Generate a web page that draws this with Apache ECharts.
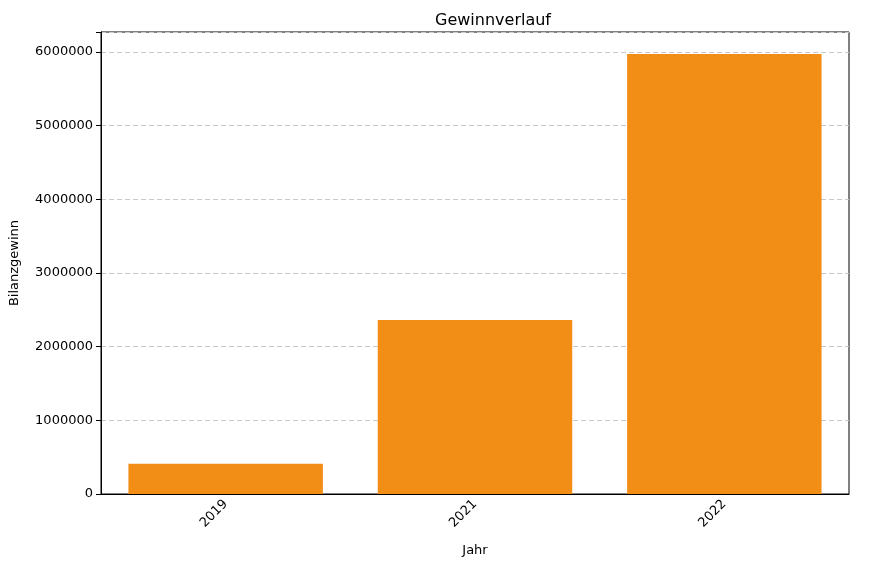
<!DOCTYPE html>
<html><head><meta charset="utf-8">
<script src="https://cdn.jsdelivr.net/npm/echarts@6/dist/echarts.min.js"></script>
<style>html,body{margin:0;padding:0;background:#fff}#c{width:885px;height:568px}</style>
</head><body><div id="c"></div>
<script>
const categories = ['2019', '2021', '2022'];
const values = [410000, 2360000, 5970000];
const yTicks = [0, 1000000, 2000000, 3000000, 4000000, 5000000, 6000000];

const chart = echarts.init(document.getElementById('c'), null, {renderer: 'canvas'});
const font = 'DejaVu Sans';
chart.setOption({
  animation: false,
  title: {text: 'Gewinnverlauf', left: 488, top: 8, textAlign: 'center',
    textStyle: {fontFamily: font, fontSize: 16, fontWeight: 'normal', color: '#000'}},
  grid: {left: 101, right: 36, top: 32, bottom: 74, show: true, borderColor: '#000', borderWidth: 1},
  xAxis: {type: 'category', data: categories, name: 'Jahr', nameLocation: 'middle', nameGap: 50,
    nameTextStyle: {fontFamily: font, fontSize: 13, color: '#000'},
    axisLine: {lineStyle: {color: '#000'}}, axisTick: {alignWithLabel: true, lineStyle: {color: '#000'}},
    axisLabel: {rotate: 45, fontFamily: font, fontSize: 13, color: '#000', margin: 8}},
  yAxis: {type: 'value', min: 0, max: 6270000, interval: 1000000,
    name: 'Bilanzgewinn', nameLocation: 'middle', nameGap: 80,
    nameTextStyle: {fontFamily: font, fontSize: 13, color: '#000'},
    axisLine: {show: true, lineStyle: {color: '#000'}}, axisTick: {show: true, lineStyle: {color: '#000'}},
    axisLabel: {fontFamily: font, fontSize: 13, color: '#000',
      formatter: v => yTicks.includes(v) ? String(v) : ''},
    splitLine: {lineStyle: {color: '#c8c8c8', type: [5, 3]}}},
  series: [{type: 'bar', data: values, barWidth: '78%', itemStyle: {color: '#f28e16'}}]
});
</script></body></html>
